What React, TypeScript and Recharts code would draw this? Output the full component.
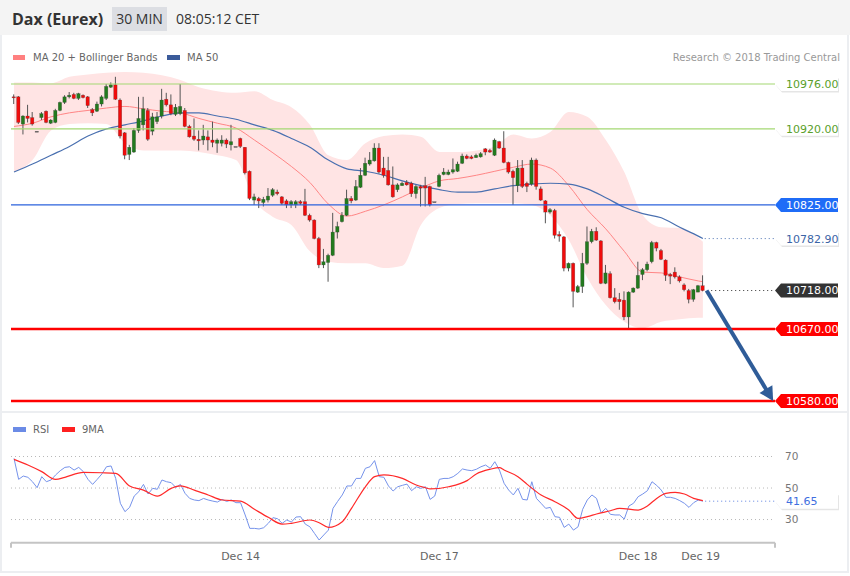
import React from "react";
import { ComposedChart, Area, Bar, Line, XAxis, YAxis, ReferenceLine } from "recharts";

// 30 min candles, Dax (Eurex), Dec 13 -> Dec 19
const opens = [
  10960, 10960, 10926, 10936, 10934, 10917, 10934, 10942, 10927, 10928,
  10943, 10953, 10960, 10963, 10958, 10962, 10960, 10944, 10942, 10951,
  10958, 10972, 10975, 10956, 10915, 10888, 10891, 10918, 10925, 10943,
  10917, 10929, 10936, 10957, 10950, 10938, 10939, 10943, 10923, 10911,
  10907, 10906, 10910, 10906, 10902, 10902, 10906, 10900, 10898, 10908,
  10897, 10867, 10831, 10833, 10828, 10831, 10837, 10841, 10835, 10830,
  10825, 10825, 10829, 10829, 10812, 10806, 10783, 10750, 10753, 10762,
  10791, 10804, 10812, 10833, 10831, 10847, 10862, 10876, 10880, 10896,
  10871, 10868, 10850, 10844, 10849, 10853, 10852, 10839, 10848, 10849,
  10848, 10829, 10848, 10863, 10863, 10866, 10867, 10877, 10886, 10885,
  10884, 10885, 10895, 10893, 10887, 10904, 10896, 10878, 10867, 10849,
  10871, 10852, 10851, 10881, 10845, 10830, 10816, 10818, 10788, 10785,
  10746, 10752, 10716, 10723, 10752, 10779, 10792, 10780, 10727, 10739,
  10709, 10707, 10706, 10685, 10716, 10721, 10738, 10744, 10754, 10778,
  10768, 10756, 10738, 10741, 10735, 10725, 10718, 10707, 10716, 10724,
];
const highs = [
  10963, 10961, 10937, 10950, 10941, 10917, 10941, 10943, 10932, 10945,
  10954, 10962, 10966, 10965, 10965, 10963, 10961, 10946, 10954, 10962,
  10976, 10978, 10985, 10958, 10916, 10900, 10921, 10960, 10960, 10946,
  10940, 10941, 10970, 10965, 10963, 10951, 10976, 10946, 10925, 10933,
  10918, 10925, 10918, 10929, 10908, 10912, 10908, 10925, 10898, 10909,
  10897, 10868, 10839, 10835, 10835, 10846, 10846, 10844, 10836, 10832,
  10831, 10831, 10831, 10845, 10814, 10807, 10785, 10770, 10764, 10815,
  10804, 10816, 10844, 10836, 10856, 10871, 10884, 10891, 10902, 10902,
  10885, 10885, 10873, 10852, 10854, 10856, 10854, 10850, 10850, 10860,
  10849, 10829, 10864, 10871, 10869, 10883, 10879, 10889, 10888, 10887,
  10889, 10891, 10896, 10895, 10908, 10905, 10917, 10879, 10869, 10881,
  10881, 10854, 10884, 10883, 10848, 10831, 10821, 10820, 10792, 10786,
  10753, 10753, 10725, 10765, 10798, 10795, 10797, 10781, 10750, 10742,
  10721, 10715, 10717, 10717, 10722, 10754, 10746, 10754, 10780, 10779,
  10770, 10757, 10740, 10747, 10737, 10727, 10720, 10720, 10725, 10737,
];
const lows = [
  10951, 10926, 10913, 10928, 10924, 10917, 10931, 10927, 10926, 10927,
  10942, 10951, 10958, 10957, 10956, 10958, 10946, 10936, 10941, 10948,
  10956, 10971, 10956, 10908, 10882, 10881, 10890, 10915, 10918, 10905,
  10912, 10926, 10933, 10948, 10937, 10936, 10937, 10922, 10909, 10905,
  10893, 10900, 10893, 10897, 10890, 10898, 10896, 10893, 10898, 10896,
  10863, 10831, 10825, 10821, 10823, 10828, 10835, 10837, 10825, 10821,
  10821, 10821, 10825, 10811, 10804, 10782, 10746, 10746, 10729, 10761,
  10783, 10803, 10811, 10827, 10830, 10846, 10861, 10874, 10879, 10864,
  10859, 10849, 10834, 10841, 10849, 10849, 10835, 10833, 10823, 10823,
  10823, 10829, 10847, 10862, 10862, 10864, 10866, 10876, 10882, 10882,
  10884, 10884, 10887, 10890, 10886, 10895, 10877, 10864, 10825, 10841,
  10846, 10841, 10849, 10844, 10830, 10802, 10814, 10783, 10779, 10742,
  10742, 10697, 10715, 10715, 10750, 10777, 10780, 10726, 10726, 10708,
  10702, 10694, 10681, 10670, 10715, 10720, 10731, 10742, 10752, 10767,
  10756, 10730, 10726, 10733, 10728, 10717, 10702, 10704, 10716, 10717,
];
const closes = [
  10959, 10928, 10936, 10933, 10926, 10917, 10939, 10928, 10931, 10943,
  10953, 10960, 10962, 10958, 10964, 10959, 10949, 10940, 10951, 10960,
  10973, 10975, 10957, 10911, 10887, 10897, 10918, 10933, 10945, 10907,
  10935, 10935, 10956, 10950, 10939, 10947, 10948, 10923, 10910, 10907,
  10905, 10911, 10906, 10903, 10906, 10906, 10901, 10904, 10898, 10898,
  10865, 10833, 10835, 10830, 10832, 10836, 10844, 10839, 10827, 10825,
  10829, 10829, 10827, 10812, 10806, 10783, 10750, 10754, 10762, 10791,
  10798, 10812, 10833, 10830, 10848, 10862, 10877, 10881, 10896, 10866,
  10862, 10850, 10835, 10850, 10852, 10850, 10839, 10848, 10846, 10846,
  10825, 10829, 10862, 10866, 10866, 10869, 10876, 10886, 10883, 10883,
  10887, 10889, 10891, 10891, 10906, 10896, 10878, 10866, 10859, 10871,
  10848, 10848, 10881, 10848, 10831, 10816, 10819, 10787, 10786, 10746,
  10752, 10717, 10723, 10752, 10779, 10792, 10781, 10727, 10740, 10709,
  10704, 10704, 10685, 10716, 10721, 10737, 10744, 10751, 10778, 10771,
  10757, 10737, 10736, 10735, 10730, 10719, 10707, 10719, 10724, 10718,
];

// indicators, read every 4th candle
const indicatorIdx = [
  0, 4, 8, 12, 16, 20, 24, 28, 32, 36, 40, 44, 48, 52, 56, 60, 64, 68, 72, 76,
  80, 84, 88, 92, 96, 100, 104, 108, 112, 116, 120, 124, 128, 132, 136, 140, 144, 148, 149,
];
const bbUpper = [
  10978, 10978, 10977, 10985, 10988, 10990, 10991, 10990, 10987, 10981,
  10972, 10967, 10965, 10967, 10956, 10947, 10925, 10887, 10881, 10902,
  10911, 10913, 10910, 10891, 10891, 10893, 10898, 10913, 10908, 10916,
  10941, 10935, 10906, 10866, 10812, 10797, 10796, 10784, 10779,
];
const bbLower = [
  10866, 10881, 10918, 10926, 10927, 10926, 10902, 10893, 10893, 10893,
  10891, 10887, 10881, 10831, 10810, 10800, 10767, 10754, 10752, 10752,
  10746, 10749, 10800, 10821, 10826, 10827, 10827, 10827, 10825, 10812,
  10781, 10734, 10700, 10679, 10671, 10679, 10682, 10684, 10684,
];
const ma20 = [
  10923, 10927, 10935, 10940, 10943, 10946, 10948, 10945, 10942, 10940,
  10933, 10927, 10921, 10906, 10890, 10873, 10853, 10826, 10811, 10817,
  10825, 10835, 10846, 10855, 10858, 10862, 10867, 10872, 10876, 10871,
  10849, 10819, 10795, 10767, 10741, 10740, 10735, 10730, 10729,
];
const ma50 = [
  10866, 10876, 10887, 10898, 10911, 10920, 10925, 10930, 10936, 10940,
  10940, 10936, 10932, 10925, 10918, 10908, 10897, 10881, 10870, 10867,
  10862, 10855, 10849, 10844, 10841, 10841, 10845, 10849, 10851, 10852,
  10851, 10845, 10834, 10822, 10814, 10809, 10797, 10786, 10782.9,
];

const rsi = [
  68.8, 55.5, 57.6, 56.8, 54.0, 50.2, 57.2, 54.0, 55.1, 58.3,
  61.0, 63.1, 63.5, 61.4, 63.1, 60.4, 55.5, 52.3, 55.5, 58.9,
  63.5, 64.0, 56.1, 40.3, 35.0, 37.7, 44.9, 47.7, 52.3, 46.2,
  49.8, 49.2, 55.1, 54.0, 53.4, 50.4, 52.3, 46.6, 43.4, 42.4,
  42.0, 43.4, 42.4, 41.7, 41.1, 42.8, 41.5, 42.4, 40.7, 40.7,
  32.9, 24.4, 24.4, 24.0, 24.8, 27.6, 31.2, 30.5, 27.6, 29.7,
  28.4, 31.6, 31.8, 27.1, 25.4, 21.2, 17.0, 20.2, 23.3, 37.1,
  41.5, 45.6, 51.3, 51.3, 56.1, 56.1, 62.5, 63.5, 67.4, 57.2,
  56.8, 51.3, 48.1, 50.8, 51.7, 52.5, 48.3, 50.8, 49.8, 50.8,
  42.8, 44.9, 55.5, 56.1, 56.1, 57.2, 59.3, 62.1, 61.4, 61.0,
  61.9, 63.5, 64.6, 62.5, 66.7, 61.4, 53.0, 48.7, 45.6, 49.8,
  42.8, 42.4, 54.0, 43.4, 40.3, 37.1, 37.7, 31.8, 31.4, 25.0,
  27.1, 23.3, 25.4, 36.5, 42.4, 45.6, 43.4, 34.3, 37.1, 33.3,
  32.9, 32.9, 30.3, 38.6, 40.3, 44.5, 46.2, 48.3, 54.0, 51.7,
  48.7, 44.1, 44.1, 43.4, 42.0, 40.3, 37.7, 40.7, 42.4, 41.65,
];
const rsiMaIdx = [
  0, 3, 6, 9, 11, 15, 19, 22, 25, 28, 31, 34, 36, 39, 42, 45, 49, 52, 55, 58,
  60, 64, 66, 68, 71, 73, 76, 78, 80, 84, 87, 89, 90, 94, 98, 100, 103, 105, 106, 109,
  111, 114, 117, 120, 122, 124, 126, 129, 131, 135, 137, 139, 141, 143, 145, 147, 149,
];
const rsiMa = [
  68.2, 64.6, 60.4, 55.5, 56.8, 59.9, 59.7, 59.3, 51.3, 48.7, 44.9, 49.8, 51.3, 48.7, 45.6, 42.4, 41.7, 36.5, 31.4, 27.1,
  27.6, 29.7, 28.0, 25.0, 28.6, 37.1, 50.8, 57.2, 58.3, 56.1, 51.9, 50.2, 49.4, 50.8, 54.7, 58.9, 61.9, 62.9, 61.4, 57.2,
  52.3, 45.6, 41.3, 36.0, 30.7, 31.8, 33.5, 35.6, 37.1, 36.0, 38.6, 43.4, 46.6, 47.2, 46.2, 43.4, 42.0,
];

const dayTicks = [49, 92, 135, 148.5];
const dayLabels = ["Dec 14", "Dec 17", "Dec 18", "Dec 19"];

const lastPrice = 10718;
const lastMa50 = 10782.9;
const lastRsi = 41.65;
const target = 10580;

const Y_MIN = 10570;
const Y_MAX = 11000;
const X_DOMAIN: [number, number] = [-0.65, 164.6];
const FONT = "'DejaVu Sans', Verdana, sans-serif";
const HEAD_FONT = "'Open Sans', 'Noto Sans', sans-serif";

const candleRows = opens.map((open, i) => ({ i, open, high: highs[i], low: lows[i], close: closes[i] }));
const indicatorRows = indicatorIdx.map((i, k) => ({
  i,
  band: [bbLower[k], bbUpper[k]],
  ma20: ma20[k],
  ma50: ma50[k],
}));
const rsiRows = rsi.map((v, i) => {
  const k = rsiMaIdx.indexOf(i);
  return { i, rsi: v, rsiMa: k >= 0 ? rsiMa[k] : null };
});

const MAIN_MARGIN = { top: 64.8, right: 75, bottom: 3, left: 11 };

function Candle(props: any) {
  const { x, y, width, height, payload } = props;
  if (!payload || height == null) return null;
  const { open, high, low, close } = payload;
  const k = height / (high - Y_MIN);
  const py = (v: number) => y + (high - v) * k;
  const cx = x + width / 2;
  const top = py(Math.max(open, close));
  const bot = py(Math.min(open, close));
  const fill = close > open ? "#237a1e" : close < open ? "#f00c0c" : "#555";
  return (
    <g>
      <line x1={cx} x2={cx} y1={py(high)} y2={py(low)} stroke="#555" strokeWidth={1} />
      <rect
        x={cx - 1.7}
        y={top}
        width={3.4}
        height={Math.max(1, bot - top)}
        fill={fill}
        stroke="rgba(50,50,50,0.45)"
        strokeWidth={0.5}
      />
    </g>
  );
}

function Tag(props: any) {
  const { viewBox, tagText, bg, fg, shadow, half = 7 } = props;
  if (!viewBox) return null;
  const x0 = viewBox.x + viewBox.width;
  const yc = viewBox.y;
  const pts = `${x0},${yc} ${x0 + 6},${yc - half} ${x0 + 63},${yc - half} ${x0 + 63},${yc + half} ${x0 + 6},${yc + half}`;
  return (
    <g>
      {shadow && <polygon points={pts} transform="translate(1,1.5)" fill="#000" opacity={0.1} />}
      <polygon points={pts} fill={bg} />
      <text x={x0 + 11} y={yc} dy="0.36em" fontSize={11} fill={fg} fontFamily={FONT}>
        {tagText}
      </text>
    </g>
  );
}

function SideLabel(props: any) {
  const { viewBox, txt } = props;
  if (!viewBox) return null;
  return (
    <text x={viewBox.x + viewBox.width + 10} y={viewBox.y} dy="0.36em" fontSize={10.5} fill="#777" fontFamily={FONT}>
      {txt}
    </text>
  );
}

function Arrow(props: any) {
  const { x1, y1, x2, y2 } = props;
  const dx = x2 - x1;
  const dy = y2 - y1;
  const len = Math.hypot(dx, dy) || 1;
  const ux = dx / len;
  const uy = dy / len;
  const bx = x2 - ux * 14;
  const by = y2 - uy * 14;
  return (
    <g>
      <line x1={x1} y1={y1} x2={bx + ux * 2} y2={by + uy * 2} stroke="#2f5c98" strokeWidth={4} />
      <polygon
        points={`${x2},${y2} ${bx - uy * 7.5},${by + ux * 7.5} ${bx + uy * 7.5},${by - ux * 7.5}`}
        fill="#2f5c98"
      />
    </g>
  );
}

function DayTick(props: any) {
  const { x, y, payload } = props;
  const k = dayTicks.indexOf(payload.value);
  if (k < 0) return <line x1={x} x2={x} y1={y} y2={y + 5} stroke="#c4c4c4" strokeWidth={2} />;
  return (
    <text x={x} y={y + 17} textAnchor="middle" fontSize={11} fill="#666" fontFamily={FONT}>
      {dayLabels[k]}
    </text>
  );
}

const layer: React.CSSProperties = { position: "absolute", left: 0, top: 0 };

export default function App() {
  return (
    <div style={{ position: "absolute", left: 0, top: 0, width: 850, height: 576, background: "#fff", overflow: "hidden" }}>
      {/* header */}
      <div style={{ position: "absolute", left: 0, top: 0, width: 850, height: 35, background: "#f4f4f4", fontFamily: HEAD_FONT, color: "#333" }}>
        <span style={{ position: "absolute", left: 12, top: 7, lineHeight: "24px", fontSize: 16, fontWeight: 700 }}>Dax (Eurex)</span>
        <span style={{ position: "absolute", left: 112, top: 7, width: 55, height: 24, lineHeight: "24px", textAlign: "center", background: "#dcdee3", fontSize: 14 }}>30 MIN</span>
        <span style={{ position: "absolute", left: 176, top: 7, lineHeight: "24px", fontSize: 14 }}>08:05:12 CET</span>
      </div>
      {/* frame */}
      <div style={{ position: "absolute", left: 0, top: 35, width: 849, height: 538, border: "2px solid #eceef1", borderTop: "none", boxSizing: "border-box" }} />
      <div style={{ position: "absolute", left: 0, top: 411, width: 849, height: 2, background: "#eceef1" }} />

      {/* legends */}
      <div style={{ position: "absolute", left: 13, top: 55, width: 12, height: 5, background: "#ff8080" }} />
      <div style={{ position: "absolute", left: 33, top: 51, lineHeight: "13px", fontSize: 10, color: "#666", fontFamily: FONT }}>MA 20 + Bollinger Bands</div>
      <div style={{ position: "absolute", left: 167, top: 55, width: 13, height: 5, background: "#3b5b9a" }} />
      <div style={{ position: "absolute", left: 187, top: 51, lineHeight: "13px", fontSize: 10, color: "#666", fontFamily: FONT }}>MA 50</div>
      <div style={{ position: "absolute", right: 10, top: 51, lineHeight: "13px", fontSize: 10, color: "#999", fontFamily: FONT }}>Research © 2018 Trading Central</div>

      <div style={{ position: "absolute", left: 13, top: 427, width: 13, height: 5, background: "#6b8be6" }} />
      <div style={{ position: "absolute", left: 33, top: 423, lineHeight: "13px", fontSize: 10, color: "#666", fontFamily: FONT }}>RSI</div>
      <div style={{ position: "absolute", left: 62, top: 427, width: 13, height: 5, background: "#ff2020" }} />
      <div style={{ position: "absolute", left: 82, top: 423, lineHeight: "13px", fontSize: 10, color: "#666", fontFamily: FONT }}>9MA</div>

      {/* bands and moving averages */}
      <div style={layer}>
        <ComposedChart width={850} height={412} data={indicatorRows} margin={MAIN_MARGIN}>
          <XAxis dataKey="i" type="number" domain={X_DOMAIN} allowDataOverflow hide />
          <YAxis domain={[Y_MIN, Y_MAX]} allowDataOverflow hide />
          <Area dataKey="band" type="monotone" stroke="none" fill="#ffe4e4" fillOpacity={1} isAnimationActive={false} />
          <Line dataKey="ma20" type="monotone" stroke="#ff8585" strokeWidth={1} dot={false} activeDot={false} isAnimationActive={false} />
          <Line dataKey="ma50" type="monotone" stroke="#4a70b0" strokeWidth={1.2} dot={false} activeDot={false} isAnimationActive={false} />
        </ComposedChart>
      </div>

      {/* candles */}
      <div style={layer}>
        <ComposedChart width={850} height={412} data={candleRows} margin={MAIN_MARGIN}>
          <XAxis dataKey="i" type="number" domain={X_DOMAIN} allowDataOverflow hide />
          <YAxis domain={[Y_MIN, Y_MAX]} allowDataOverflow hide />
          <Bar dataKey={(d: any) => [Y_MIN, d.high]} barSize={4} shape={<Candle />} isAnimationActive={false} />
        </ComposedChart>
      </div>

      {/* levels */}
      <div style={layer}>
        <ComposedChart width={850} height={412} data={indicatorRows} margin={MAIN_MARGIN}>
          <XAxis dataKey="i" type="number" domain={X_DOMAIN} allowDataOverflow hide />
          <YAxis domain={[Y_MIN, Y_MAX]} allowDataOverflow hide />
          <ReferenceLine y={10976} stroke="#a4d873" strokeWidth={1.2} label={<Tag tagText="10976.00" bg="#fff" fg="#5aa02a" shadow />} />
          <ReferenceLine y={10920} stroke="#a4d873" strokeWidth={1.2} label={<Tag tagText="10920.00" bg="#fff" fg="#5aa02a" shadow />} />
          <ReferenceLine y={10825} stroke="#2b62dc" strokeWidth={1.2} label={<Tag tagText="10825.00" bg="#1f6cf7" fg="#fff" />} />
          <ReferenceLine
            segment={[{ x: 149.4, y: lastMa50 }, { x: X_DOMAIN[1], y: lastMa50 }]}
            stroke="#4a70b0"
            strokeDasharray="1 3"
            label={<Tag tagText="10782.90" bg="#fff" fg="#3b64a6" shadow />}
          />
          <ReferenceLine
            segment={[{ x: 150.8, y: lastPrice }, { x: X_DOMAIN[1], y: lastPrice }]}
            stroke="#333"
            strokeDasharray="1 3"
            label={<Tag tagText="10718.00" bg="#333" fg="#fff" />}
          />
          <ReferenceLine y={10670} stroke="#ff0000" strokeWidth={2.5} label={<Tag tagText="10670.00" bg="#ff0000" fg="#fff" />} />
          <ReferenceLine y={target} stroke="#ff0000" strokeWidth={2.5} label={<Tag tagText="10580.00" bg="#ff0000" fg="#fff" />} />
          <ReferenceLine segment={[{ x: 149.8, y: lastPrice }, { x: 164.2, y: target }]} shape={<Arrow />} />
        </ComposedChart>
      </div>

      {/* RSI panel */}
      <div style={{ position: "absolute", left: 0, top: 412 }}>
        <ComposedChart width={850} height={164} data={rsiRows} margin={{ top: 28.75, right: 75, bottom: 13.3, left: 11 }}>
          <XAxis
            dataKey="i"
            type="number"
            domain={X_DOMAIN}
            allowDataOverflow
            ticks={[X_DOMAIN[0], ...dayTicks, X_DOMAIN[1]]}
            interval={0}
            height={20}
            axisLine={{ stroke: "#c4c4c4", strokeWidth: 2 }}
            tickLine={false}
            tickSize={0}
            tickMargin={0}
            tick={<DayTick />}
          />
          <YAxis domain={[15.3, 80]} allowDataOverflow hide />
          <ReferenceLine y={70} stroke="#b8b8b8" strokeDasharray="1 3" label={<SideLabel txt="70" />} />
          <ReferenceLine y={50} stroke="#b8b8b8" strokeDasharray="1 3" label={<SideLabel txt="50" />} />
          <ReferenceLine y={30} stroke="#b8b8b8" strokeDasharray="1 3" label={<SideLabel txt="30" />} />
          <ReferenceLine
            segment={[{ x: 149.5, y: lastRsi }, { x: X_DOMAIN[1], y: lastRsi }]}
            stroke="#5b7fe0"
            strokeDasharray="1 3"
            label={<Tag tagText="41.65" bg="#fff" fg="#3f6fe0" shadow half={7.5} />}
          />
          <Line dataKey="rsi" type="linear" stroke="#7592ea" strokeWidth={1} dot={false} activeDot={false} isAnimationActive={false} />
          <Line dataKey="rsiMa" type="monotone" connectNulls stroke="#ff2a2a" strokeWidth={1.2} dot={false} activeDot={false} isAnimationActive={false} />
        </ComposedChart>
      </div>
    </div>
  );
}
